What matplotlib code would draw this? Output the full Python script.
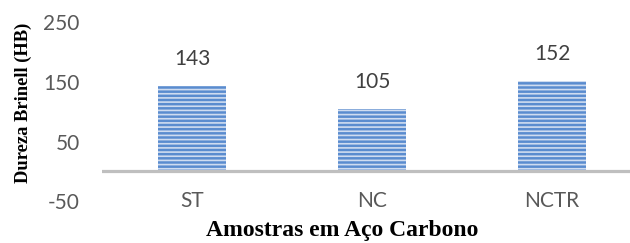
import matplotlib
matplotlib.use("Agg")
import matplotlib.pyplot as plt

categories = ["ST", "NC", "NCTR"]
values = [143, 105, 152]
yticks = [-50, 50, 150, 250]

W, H = 630, 243
plt.rcParams['hatch.linewidth'] = 1.2
fig = plt.figure(figsize=(W/100, H/100), dpi=100)
ax = fig.add_axes([102/W, 42/H, 528/W, 178.5/H])

ax.bar(range(len(categories)), values, width=68/180, color="#5a8ccf",
       edgecolor="#cfdcf0", hatch="----", linewidth=0, zorder=2)
ax.axhline(0, color="#bfbfbf", lw=2.3, zorder=3)

ax.set_xlim(-0.5, 2.5 - 12/180)
ax.set_ylim(-50, 250)
ax.set_yticks(yticks)
ax.set_yticklabels([str(t) for t in yticks], fontsize=15, color="#595959",
                   family="Lato")
ax.tick_params(axis='y', length=0, pad=16)
ax.set_xticks([])
for s in ax.spines.values():
    s.set_visible(False)

for i, (c, v) in enumerate(zip(categories, values)):
    ax.text(i, -50, c, ha="center", va="center", fontsize=15,
            color="#595959", family="Lato")
    ax.text(i, v + 45, str(v), ha="center", va="center", fontsize=15,
            color="#404040", family="Lato")

fig.text(23/W, 1 - 103/H, "Dureza Brinell (HB)", rotation=90, ha="center",
         va="center", fontsize=13.3, fontweight="bold", family="Liberation Serif")
fig.text(342/W, 1 - 230/H, "Amostras em Aço Carbono", ha="center",
         va="center", fontsize=17, fontweight="bold", family="Liberation Serif")

fig.savefig("out.png", dpi=100)
